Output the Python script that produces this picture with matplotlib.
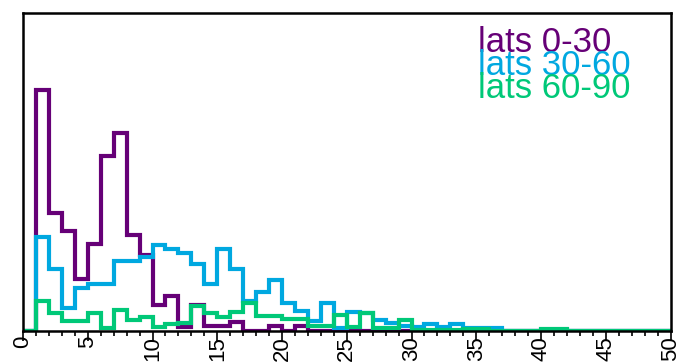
import numpy as np
import matplotlib
matplotlib.use("Agg")
import matplotlib.pyplot as plt

# histogram bins, width 1, from 0 to 50
bin_edges = np.arange(0, 51, 1)

# counts (no y scale shown, so arbitrary units)
lats_0_30 = [0, 241, 118, 100, 52, 87, 175, 198, 96, 76,
             26, 35, 4, 26, 5, 5, 9, 0, 0, 5,
             0, 5, 0, 0, 0, 0, 0, 0, 0, 0,
             0, 0, 0, 0, 0, 0, 0, 0, 0, 0,
             0, 0, 0, 0, 0, 0, 0, 0, 0, 0]
lats_30_60 = [0, 94, 62, 23, 43, 47, 47, 70, 70, 74,
              86, 82, 78, 67, 47, 82, 62, 30, 39, 51,
              28, 20, 10, 28, 3, 19, 18, 11, 8, 5,
              4, 7, 4, 7, 3, 3, 3, 0, 0, 0,
              0, 0, 0, 0, 0, 0, 0, 0, 0, 0]
lats_60_90 = [0, 30, 18, 10, 10, 18, 3, 21, 11, 14,
              4, 7, 8, 25, 18, 14, 19, 28, 15, 15,
              12, 12, 5, 5, 16, 4, 18, 3, 3, 11,
              1, 1, 1, 1, 2, 2, 0, 0, 0, 0,
              2, 2, 0, 0, 0, 0, 0, 0, 0, 0]

labels = ["lats 0-30", "lats 30-60", "lats 60-90"]
colors = ["#660077", "#00a8e0", "#00c878"]
xticks = np.arange(0, 51, 5)

plt.rcParams['font.family'] = ['Liberation Sans', 'DejaVu Sans']

fig = plt.figure(figsize=(6.83, 3.63), dpi=100)
ax = fig.add_axes([0.0337, 0.0882, 0.948, 0.877])

for counts, col in zip([lats_0_30, lats_30_60, lats_60_90], colors):
    ax.stairs(counts, bin_edges, color=col, linewidth=3.0)

ax.set_xlim(0, 50)
ax.set_ylim(0, 319)

ax.set_xticks(xticks)
ax.set_xticklabels([str(t) for t in xticks], rotation=90, fontsize=16)
ax.set_xticks(np.arange(0, 51, 1), minor=True)
ax.tick_params(axis='x', which='major', direction='out', length=7, width=1.2, pad=-3.5)
ax.tick_params(axis='x', which='minor', direction='out', length=3.5, width=1.2)
ax.set_yticks([])
for sp in ax.spines.values():
    sp.set_linewidth(1.8)

# legend as coloured text lines, overlapping like the original
for i, (lab, col) in enumerate(zip(labels, colors)):
    ax.text(0.702, 0.875 - i * 0.072, lab, color=col, fontsize=25,
            transform=ax.transAxes, ha='left', va='baseline')

fig.savefig("out.png", dpi=100)
